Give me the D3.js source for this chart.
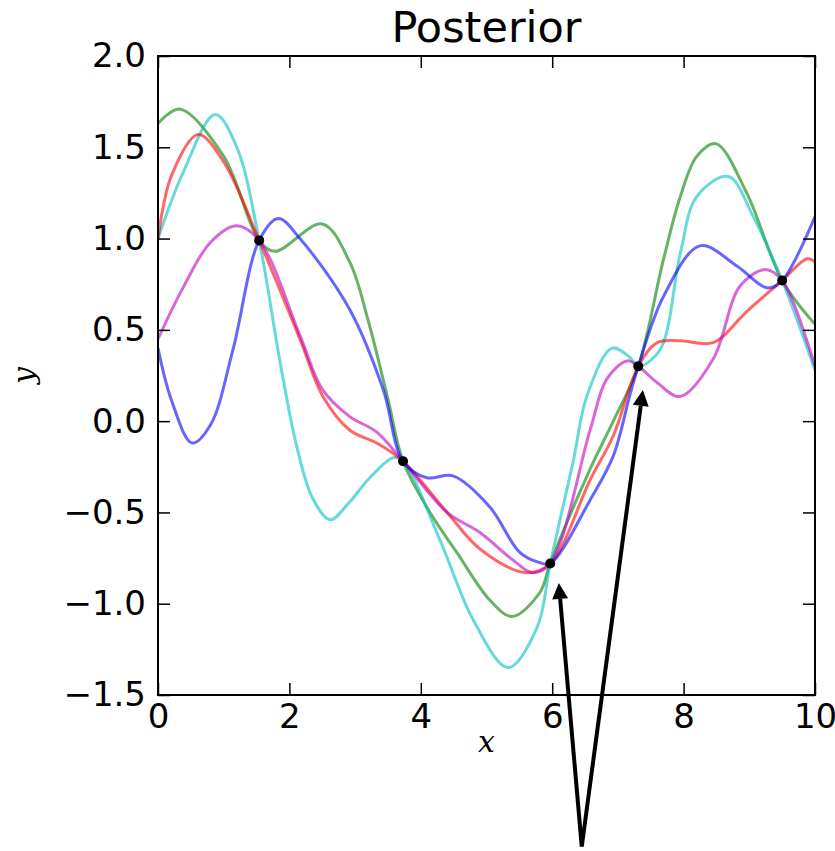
<!doctype html>
<html>

<head>
    <meta charset="utf-8">
    <title>Posterior</title>
    <script src="https://d3js.org/d3.v7.min.js"></script>
</head>
<style type="text/css">
    body {
        margin: 0;
        background-color: #ffffff;
    }

    text {
        font-family: "DejaVu Sans", sans-serif;
        fill: #000;
    }
</style>

<body>
    <svg id="chart" width="835" height="851"></svg>

    <script>
        // observed points (black dots)
        var obsX = [1.54, 3.73, 5.97, 7.31, 9.50];
        var obsY = [0.99, -0.22, -0.78, 0.30, 0.77];

        // posterior samples
        var greenX = [0, 0.33, 1.0, 1.54, 1.78, 2.5, 2.92, 3.2, 3.5, 3.73, 4.14, 4.55, 5.05, 5.39, 5.81, 5.97, 6.58, 6.93, 7.31, 7.69, 7.95, 8.2, 8.49, 8.96, 9.5, 10];
        var greenY = [1.63, 1.71, 1.45, 0.99, 0.93, 1.08, 0.87, 0.55, 0.12, -0.22, -0.50, -0.72, -0.98, -1.07, -0.94, -0.78, -0.26, 0.0, 0.30, 0.88, 1.23, 1.45, 1.52, 1.25, 0.77, 0.53];

        var cyanX = [0, 0.38, 0.87, 1.2, 1.54, 1.86, 2.1, 2.35, 2.62, 2.9, 3.2, 3.58, 3.73, 4.29, 4.8, 5.33, 5.77, 5.97, 6.32, 6.53, 6.91, 7.18, 7.31, 7.64, 7.95, 8.2, 8.68, 9.06, 9.5, 10];
        var cyanY = [1.0, 1.36, 1.68, 1.50, 0.99, 0.32, -0.12, -0.42, -0.54, -0.45, -0.32, -0.20, -0.22, -0.65, -1.09, -1.35, -1.13, -0.78, -0.22, 0.14, 0.40, 0.35, 0.30, 0.39, 0.92, 1.23, 1.34, 1.12, 0.77, 0.28];

        var redX = [0, 0.2, 0.61, 1.0, 1.54, 2.16, 2.51, 2.92, 3.33, 3.73, 4.4, 4.9, 5.6, 5.97, 6.58, 6.93, 7.31, 7.6, 7.95, 8.45, 8.96, 9.5, 9.88, 10];
        var redY = [1.0, 1.34, 1.57, 1.42, 0.99, 0.45, 0.135, -0.05, -0.12, -0.22, -0.50, -0.70, -0.83, -0.78, -0.32, -0.08, 0.30, 0.43, 0.44, 0.43, 0.60, 0.77, 0.89, 0.87];

        var magentaX = [0, 0.38, 0.8, 1.2, 1.54, 2.16, 2.51, 2.92, 3.33, 3.73, 4.4, 4.9, 5.4, 5.7, 5.97, 6.58, 6.83, 7.14, 7.31, 7.6, 7.95, 8.45, 8.86, 9.24, 9.5, 10];
        var magentaY = [0.45, 0.73, 0.98, 1.07, 0.99, 0.47, 0.17, 0.025, -0.06, -0.22, -0.50, -0.61, -0.76, -0.83, -0.78, -0.045, 0.23, 0.33, 0.30, 0.21, 0.135, 0.34, 0.74, 0.83, 0.77, 0.30];

        var blueX = [0, 0.2, 0.52, 0.8, 1.14, 1.54, 1.83, 2.16, 2.92, 3.43, 3.73, 4.09, 4.49, 5.05, 5.51, 5.81, 5.97, 6.58, 6.93, 7.18, 7.31, 7.69, 8.25, 8.81, 9.27, 9.5, 10];
        var blueY = [0.40, 0.12, -0.12, -0.02, 0.39, 0.99, 1.11, 1.0, 0.61, 0.17, -0.22, -0.31, -0.30, -0.47, -0.72, -0.775, -0.78, -0.43, -0.19, 0.14, 0.30, 0.68, 0.96, 0.85, 0.73, 0.77, 1.12];

        var xTicks = [0, 2, 4, 6, 8, 10];
        var yTicks = [-1.5, -1.0, -0.5, 0.0, 0.5, 1.0, 1.5, 2.0];

        // arrow annotation: text spot and the two tips, in data units
        var arrowFrom = [6.45, -2.33];
        var arrowTips = [[6.10, -0.886], [7.38, 0.171]];

        var series = [
            { name: "g", color: "#008000", xs: greenX, ys: greenY },
            { name: "c", color: "#00bfbf", xs: cyanX, ys: cyanY },
            { name: "r", color: "#ff0000", xs: redX, ys: redY },
            { name: "m", color: "#bf00bf", xs: magentaX, ys: magentaY },
            { name: "b", color: "#0000ff", xs: blueX, ys: blueY }
        ];

        var margin = { top: 56, right: 20, bottom: 156, left: 158 },
            width = 657,
            height = 639;

        var svg = d3.select("#chart");

        var x = d3.scaleLinear().domain([0, 10]).range([0, width]);
        var y = d3.scaleLinear().domain([-1.5, 2.0]).range([height, 0]);

        svg.append("defs").append("clipPath")
            .attr("id", "clip")
            .append("rect")
            .attr("width", width)
            .attr("height", height);

        var g = svg.append("g")
            .attr("transform", "translate(" + margin.left + "," + margin.top + ")");

        var line = d3.line()
            .x(function (d) { return x(d[0]); })
            .y(function (d) { return y(d[1]); })
            .curve(d3.curveCatmullRom.alpha(0.5));

        var plot = g.append("g").attr("clip-path", "url(#clip)");

        plot.selectAll("path.sample")
            .data(series)
            .enter().append("path")
            .attr("class", "sample")
            .attr("fill", "none")
            .attr("stroke", function (d) { return d.color; })
            .attr("stroke-opacity", 0.6)
            .attr("stroke-width", 3)
            .attr("d", function (d) {
                return line(d.xs.map(function (v, i) { return [v, d.ys[i]]; }));
            });

        plot.selectAll("circle")
            .data(obsX)
            .enter().append("circle")
            .attr("cx", function (d) { return x(d); })
            .attr("cy", function (d, i) { return y(obsY[i]); })
            .attr("r", 5)
            .attr("fill", "#000");

        // ticks inside on all four sides, like matplotlib classic
        var tickLen = 12;
        var fmtY = function (d) { return d3.format(".1f")(d).replace("-", "\u2212"); };

        var bottomAxis = d3.axisBottom(x).tickValues(xTicks).tickSizeInner(-tickLen).tickSizeOuter(0).tickPadding(9);
        var topAxis = d3.axisTop(x).tickValues(xTicks).tickSizeInner(-tickLen).tickSizeOuter(0).tickFormat("");
        var leftAxis = d3.axisLeft(y).tickValues(yTicks).tickSizeInner(-tickLen).tickSizeOuter(0).tickPadding(12).tickFormat(fmtY);
        var rightAxis = d3.axisRight(y).tickValues(yTicks).tickSizeInner(-tickLen).tickSizeOuter(0).tickFormat("");

        var axes = [
            g.append("g").attr("transform", "translate(0," + height + ")").call(bottomAxis),
            g.append("g").call(topAxis),
            g.append("g").call(leftAxis),
            g.append("g").attr("transform", "translate(" + width + ",0)").call(rightAxis)
        ];

        axes.forEach(function (a) {
            a.select(".domain").remove();
            a.selectAll(".tick line").attr("stroke", "#000").attr("stroke-width", 1.5);
            a.selectAll(".tick text").style("font-size", "34px").attr("fill", "#000");
        });

        g.append("rect")
            .attr("width", width)
            .attr("height", height)
            .attr("fill", "none")
            .attr("stroke", "#000")
            .attr("stroke-width", 2);

        // title and axis labels
        svg.append("text")
            .attr("x", margin.left + width / 2)
            .attr("y", 42)
            .attr("text-anchor", "middle")
            .style("font-size", "43px")
            .text("Posterior");

        svg.append("text")
            .attr("x", margin.left + width / 2)
            .attr("y", 752)
            .attr("text-anchor", "middle")
            .style("font-family", "'DejaVu Serif', serif")
            .style("font-style", "italic")
            .style("font-size", "30px")
            .text("x");

        svg.append("text")
            .attr("transform", "translate(34," + (margin.top + height / 2) + ") rotate(-90)")
            .attr("text-anchor", "middle")
            .style("font-family", "'DejaVu Serif', serif")
            .style("font-style", "italic")
            .style("font-size", "30px")
            .text("y");

        // arrows
        var ax0 = margin.left + x(arrowFrom[0]),
            ay0 = margin.top + y(arrowFrom[1]);

        arrowTips.forEach(function (t) {
            var tx = margin.left + x(t[0]),
                ty = margin.top + y(t[1]);
            var dx = tx - ax0, dy = ty - ay0;
            var len = Math.sqrt(dx * dx + dy * dy);
            var ux = dx / len, uy = dy / len;
            var headL = 16, headW = 8;
            var bx = tx - ux * headL, by = ty - uy * headL;

            svg.append("line")
                .attr("x1", ax0).attr("y1", ay0)
                .attr("x2", bx).attr("y2", by)
                .attr("stroke", "#000")
                .attr("stroke-width", 4);

            svg.append("path")
                .attr("d", "M" + tx + "," + ty +
                    "L" + (bx - uy * headW) + "," + (by + ux * headW) +
                    "L" + (bx + uy * headW) + "," + (by - ux * headW) + "Z")
                .attr("fill", "#000");
        });
    </script>
</body>

</html>
